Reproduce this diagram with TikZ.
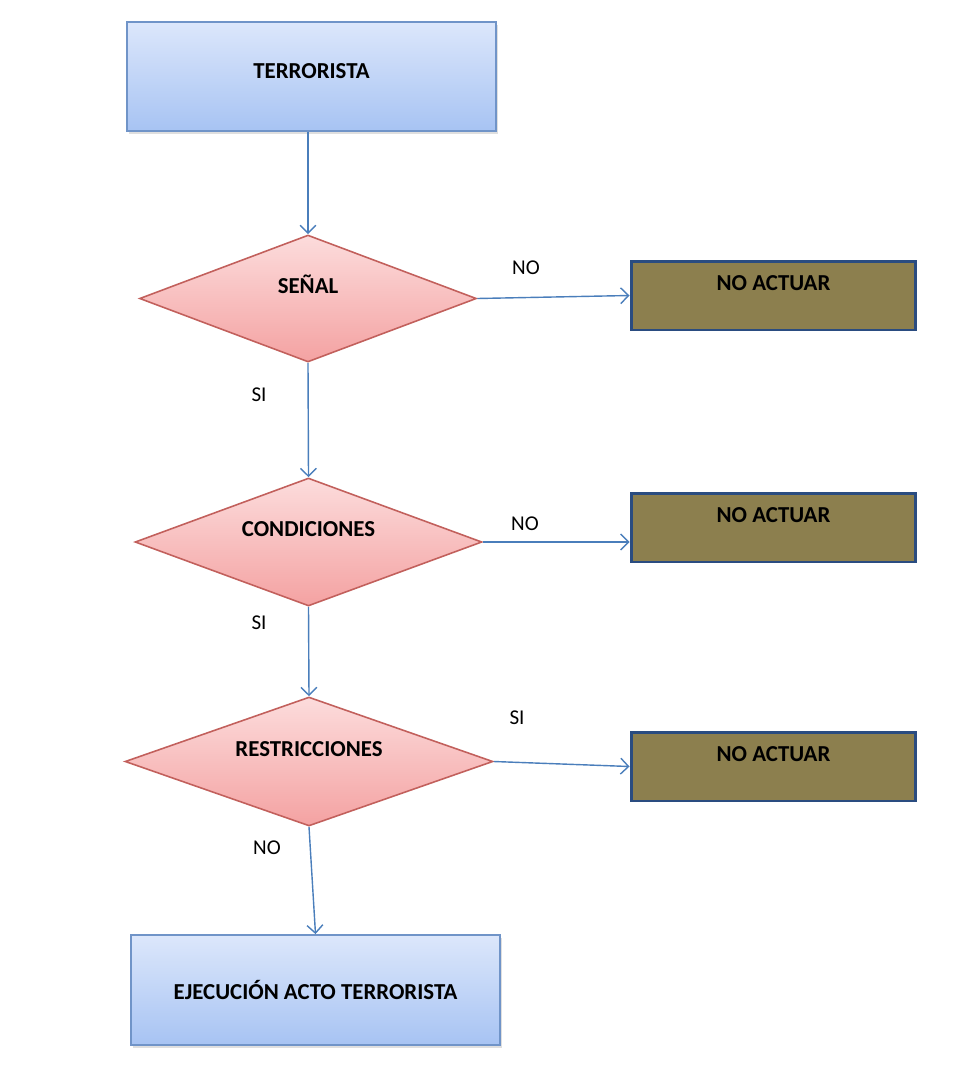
\documentclass[tikz,border=0pt]{standalone}
\usepackage{fontspec}
\setmainfont{Carlito}
\usetikzlibrary{shapes.geometric,arrows.meta,shadows}

\definecolor{linkblue}{HTML}{4A7EBB}
\definecolor{boxtop}{HTML}{DCE7FB}
\definecolor{boxbot}{HTML}{A7C3F3}
\definecolor{boxline}{HTML}{7094C8}
\definecolor{dectop}{HTML}{FCDCDC}
\definecolor{decbot}{HTML}{F4A2A2}
\definecolor{decline}{HTML}{C2605C}
\definecolor{olive}{HTML}{8C7F4E}
\definecolor{oliveline}{HTML}{2A4C80}

\tikzset{
  startbox/.style={rectangle, draw=boxline, line width=1.1pt,
    top color=boxtop, bottom color=boxbot, inner sep=0pt,
    font=\fontsize{13}{15}\selectfont\bfseries,
    drop shadow={opacity=0.25, shadow xshift=1pt, shadow yshift=-1.5pt}},
  decision/.style={diamond, aspect=2.65, draw=decline, line width=0.9pt,
    top color=dectop, bottom color=decbot, inner sep=0pt,
    text height=8pt, text depth=14pt,
    font=\fontsize{13}{15}\selectfont\bfseries},
  stopbox/.style={rectangle, draw=oliveline, line width=1.7pt, fill=olive,
    minimum width=5.7cm, minimum height=1.38cm, inner sep=0pt,
    text height=8pt, text depth=14pt,
    font=\fontsize{13}{15}\selectfont\bfseries},
  answer/.style={font=\fontsize{12}{14}\selectfont, inner sep=1pt},
  link/.style={draw=linkblue, line width=0.8pt,
    -{Straight Barb[length=4.5pt,width=9pt]}}
}

\begin{document}
\begin{tikzpicture}[x=0.02cm, y=-0.02cm]
    \useasboundingbox (0,0) rectangle (976,1069);

    \node[startbox, minimum width=7.38cm, minimum height=2.18cm,
      text height=8pt, text depth=6pt] (terr) at (311.5,76.5) {TERRORISTA};

    \node[decision, minimum width=6.74cm, minimum height=2.54cm] (senal) at (308,298.5) {SEÑAL};
    \node[decision, minimum width=6.94cm, minimum height=2.56cm] (cond) at (308.5,542) {CONDICIONES};
    \node[decision, minimum width=7.36cm, minimum height=2.58cm] (restr) at (309,761.5) {RESTRICCIONES};

    \node[stopbox] (noact1) at (773.5,295.5) {NO ACTUAR};
    \node[stopbox] (noact2) at (773.5,527.5) {NO ACTUAR};
    \node[stopbox] (noact3) at (773.5,766.5) {NO ACTUAR};

    \node[startbox, minimum width=7.38cm, minimum height=2.2cm] (ejec) at (315.5,990) {EJECUCIÓN ACTO TERRORISTA};

    % answers
    \node[answer] (ans1) at (526,268) {NO};
    \node[answer] (ans2) at (259,395) {SI};
    \node[answer] (ans3) at (525,524) {NO};
    \node[answer] (ans4) at (259,623) {SI};
    \node[answer] (ans5) at (517,718) {SI};
    \node[answer] (ans6) at (267,848) {NO};

    \draw[link] (terr.south -| senal.north) -- (senal.north);
    \draw[link] (senal.east) -- (noact1.west);
    \draw[link] (senal.south) -- (cond.north);
    \draw[link] (cond.east) -- (cond.east -| noact2.west);
    \draw[link] (cond.south) -- (restr.north);
    \draw[link] (restr.east) -- (noact3.west);
    \draw[link] (restr.south) -- (ejec.north);
\end{tikzpicture}
\end{document}
